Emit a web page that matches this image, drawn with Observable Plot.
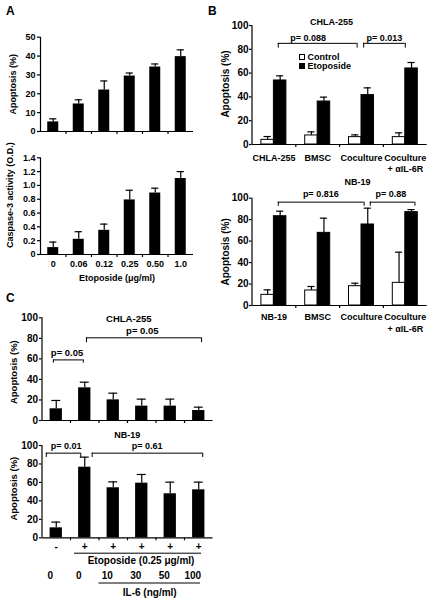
<!DOCTYPE html>
<html><head><meta charset="utf-8">
<script src="https://cdn.jsdelivr.net/npm/d3@7"></script>
<script src="https://cdn.jsdelivr.net/npm/@observablehq/plot@0.6"></script>
<style>
body{margin:0;background:#fff;}
#fig{position:relative;width:434px;height:600px;overflow:hidden;font-family:"Liberation Sans",Arial,Helvetica,sans-serif;font-weight:bold;color:#000;}
.letter{position:absolute;font-size:12px;line-height:12px;font-weight:bold;}
.leg{position:absolute;font-size:9px;line-height:9.4px;white-space:nowrap;}
.sw{display:inline-block;width:4px;height:4px;border:1px solid #000;margin-right:2.5px;vertical-align:0px;}
</style></head><body><div id="fig"></div>
<script>
// ---------- Panel A ----------
const aDoses = ["0", "0.06", "0.12", "0.25", "0.50", "1.0"];
const aApop = [5.1, 14.6, 22, 29.4, 34.2, 39.7];
const aApopErr = [6.7, 16.8, 26.8, 31, 35.8, 43.3];
const aCasp = [0.1, 0.22, 0.35, 0.79, 0.89, 1.1];
const aCaspErr = [0.18, 0.33, 0.44, 0.93, 0.96, 1.2];
const aApopTicks = [0, 10, 20, 30, 40, 50];
const aCaspTicks = [0, 0.2, 0.4, 0.6, 0.8, 1.0, 1.2, 1.4];

// ---------- Panel B ----------
const bSeries = ["Control", "Etoposide"];
const bSeriesFill = ["white", "black"];
const bTopGroups = ["CHLA-255", "BMSC", "Coculture", "Coculture\n+ αIL-6R"];
const bTopControl = [3.9, 7.6, 6.2, 6.2];
const bTopControlErr = [6.7, 10.6, 8.1, 9.8];
const bTopEtop = [53.8, 36.1, 41.5, 63.9];
const bTopEtopErr = [57.7, 39.8, 47.6, 68.9];
const bTopP = ["p= 0.088", "p= 0.013"];
const bTopPFrom = [0.6, 2.55], bTopPTo = [2.4, 3.5], bTopPText = [1.28, 3.02];
const bTopPY = [85, 85], bTopPEnd = [81, 81];

const bBotGroups = ["NB-19", "BMSC", "Coculture", "Coculture\n+ αIL-6R"];
const bBotControl = [9.9, 14, 18, 21.1];
const bBotControlErr = [14.6, 17.7, 20.8, 49.7];
const bBotEtop = [83.2, 67.7, 75.5, 87];
const bBotEtopErr = [87.9, 81.4, 90.7, 89.4];
const bBotP = ["p= 0.816", "p= 0.88"];
const bBotPFrom = [0.6, 2.7], bBotPTo = [2.56, 3.72], bBotPText = [1.57, 3.17];
const bBotPY = [96.3, 96.3], bBotPEnd = [92.5, 92.5];
const bTicks = [0, 20, 40, 60, 80, 100];

// ---------- Panel C ----------
const cTopVals = [11.4, 31.8, 20.1, 14, 14, 9.7];
const cTopErr = [19.5, 37.3, 26.6, 20.8, 20.8, 13];
const cTopP = ["p= 0.05", "p= 0.05"];
const cTopPFrom = [0.4, 1.56], cTopPTo = [1.45, 5.6], cTopPText = [0.88, 3.52];
const cTopPY = [59, 80.5], cTopPEnd = [55.8, 75.7];

const cBotVals = [10.8, 76.5, 54.2, 59.2, 47.7, 52];
const cBotErr = [17, 87.4, 60.6, 68.6, 60.3, 60.3];
const cBotP = ["p= 0.01", "p= 0.61"];
const cBotPFrom = [0.15, 1.76], cBotPTo = [1.36, 5.64], cBotPText = [0.85, 3.69];
const cBotPY = [91.7, 91.7], cBotPEnd = [87, 87];
const cTicks = [0, 20, 40, 60, 80, 100];
const cEtoposide = ["-", "+", "+", "+", "+", "+"];
const cIL6 = ["0", "0", "10", "30", "50", "100"];
const cEtopSpan = [1.14, 5.6];   // bars covered by the etoposide line
const cIL6Span = [2.0, 5.56];    // bars covered by the IL-6 line

// ---------- helpers ----------
const FONT = '"Liberation Sans", Arial, Helvetica, sans-serif';
const fig = document.getElementById("fig");
const SW = 1.2;

function place(opts, left, top, fs) {
  const svg = Plot.plot({
    ...opts,
    style: {fontFamily: FONT, fontWeight: "bold", fontSize: fs + "px", background: "transparent", overflow: "visible", color: "black"}
  });
  svg.style.position = "absolute";
  svg.style.left = left + "px";
  svg.style.top = top + "px";
  fig.appendChild(svg);
}

function frameMarks(yTicks, xTicks, fmt, tickSize, tickPadding, fs) {
  return [
    Plot.axisY({ticks: yTicks, tickSize, tickPadding, tickFormat: fmt, label: null, fontSize: fs, strokeWidth: SW}),
    Plot.axisX({ticks: xTicks, tickSize: 3, tickFormat: () => "", label: null, strokeWidth: SW}),
    Plot.ruleY([0], {strokeWidth: SW}),
    Plot.ruleX([0], {strokeWidth: SW})
  ];
}

function singleBars(vals, errs, bandPx, barPx, capPx) {
  const data = vals.map((v, i) => ({i, v, e: errs[i]}));
  const inset = (bandPx - barPx) / 2, cap = capPx / bandPx;
  return [
    Plot.ruleX(data, {x: d => d.i + 0.5, y1: "v", y2: "e", strokeWidth: SW}),
    Plot.ruleY(data, {x1: d => d.i + 0.5 - cap, x2: d => d.i + 0.5 + cap, y: "e", strokeWidth: SW}),
    Plot.rectY(data, {x1: "i", x2: d => d.i + 1, y1: 0, y2: "v", fill: "black", insetLeft: inset, insetRight: inset})
  ];
}

function groupedBars(series, bandPx, barPx, capPx) {
  const w = barPx / bandPx, cap = capPx / bandPx;
  const marks = [];
  series.forEach(([vals, errs], s) => {
    const data = vals.map((v, i) => ({i, v, e: errs[i], c: i + 0.5 - w + s * w + w / 2}));
    marks.push(
      Plot.ruleX(data, {x: "c", y1: "v", y2: "e", strokeWidth: SW}),
      Plot.ruleY(data, {x1: d => d.c - cap, x2: d => d.c + cap, y: "e", strokeWidth: SW}),
      Plot.rectY(data, {x1: d => d.c - w / 2, x2: d => d.c + w / 2, y1: 0, y2: "v",
        fill: bSeriesFill[s], stroke: "black", strokeWidth: 1})
    );
  });
  return marks;
}

function brackets(labels, from, to, tx, ys, ends, dy, fs) {
  const data = labels.map((label, k) => ({label, x1: from[k], x2: to[k], tx: tx[k], y: ys[k], y2: ends[k]}));
  return [
    Plot.ruleY(data, {x1: "x1", x2: "x2", y: "y", strokeWidth: 1}),
    Plot.ruleX(data, {x: "x1", y1: "y", y2: "y2", strokeWidth: 1}),
    Plot.ruleX(data, {x: "x2", y1: "y", y2: "y2", strokeWidth: 1}),
    Plot.text(data, {x: "tx", y: "y", text: "label", dy, fontSize: fs, lineAnchor: "middle", textAnchor: "middle"})
  ];
}

function yLabel(text, dx, dy, fs) {
  return Plot.text([text], {frameAnchor: "left", rotate: -90, dx, dy, fontSize: fs, textAnchor: "middle", lineAnchor: "middle"});
}

function bottomText(data, o) {
  return Plot.text(data, {frameAnchor: "bottom", lineAnchor: "middle", textAnchor: "middle", ...o});
}
function topText(t, dx, dy, fs) {
  return Plot.text([t], {frameAnchor: "top", lineAnchor: "middle", textAnchor: "middle", dx, dy, fontSize: fs});
}

// ---------- A top ----------
place({
  width: 217, height: 150, marginLeft: 40, marginRight: 24, marginTop: 36.7, marginBottom: 19,
  x: {type: "linear", domain: [0, aDoses.length]},
  y: {domain: [0, 50]},
  marks: [
    ...singleBars(aApop, aApopErr, 25.5, 11, 3.6),
    ...frameMarks(aApopTicks, d3.range(1, aDoses.length), d => d, 3, 2, 9),
    yLabel("Apoptosis (%)", -27, 0, 9)
  ]
}, 0, 0, 9);

// ---------- A bottom ----------
place({
  width: 217, height: 135, marginLeft: 40, marginRight: 24, marginTop: 7.3, marginBottom: 31,
  x: {type: "linear", domain: [0, aDoses.length]},
  y: {domain: [0, 1.4]},
  marks: [
    ...singleBars(aCasp, aCaspErr, 25.5, 11, 3.6),
    ...frameMarks(aCaspTicks, d3.range(1, aDoses.length), d => d === 0 ? "0" : d.toFixed(1), 3, 2, 9),
    bottomText(aDoses, {x: (d, i) => i + 0.5, text: d => d, dy: 9.5, fontSize: 9}),
    bottomText(["Etoposide (μg/ml)"], {dy: 23.7, fontSize: 9}),
    yLabel("Caspase-3 activity (O.D.)", -30, -11, 9)
  ]
}, 0, 150, 9);

// ---------- B top ----------
place({
  width: 217, height: 175, marginLeft: 34.5, marginRight: 7.3, marginTop: 25, marginBottom: 31,
  x: {type: "linear", domain: [0, bTopGroups.length]},
  y: {domain: [0, 100]},
  marks: [
    ...groupedBars([[bTopControl, bTopControlErr], [bTopEtop, bTopEtopErr]], 43.8, 12.5, 3.6),
    ...frameMarks(bTicks, d3.range(1, bTopGroups.length), d => d, 2.5, 1, 10),
    Plot.text(bTopGroups, {x: (d, i) => i + 0.5, text: d => d, frameAnchor: "bottom", lineAnchor: "top", textAnchor: "middle", dy: 8, lineHeight: 1.25, fontSize: 9}),
    ...brackets(bTopP, bTopPFrom, bTopPTo, bTopPText, bTopPY, bTopPEnd, -5.6, 9),
    topText("CHLA-255", -8, -3.3, 9),
    yLabel("Apoptosis (%)", -26.5, -1, 10)
  ]
}, 217, 0, 10);

// ---------- B bottom ----------
place({
  width: 217, height: 160, marginLeft: 34.5, marginRight: 7.3, marginTop: 22.7, marginBottom: 30,
  x: {type: "linear", domain: [0, bBotGroups.length]},
  y: {domain: [0, 100]},
  marks: [
    ...groupedBars([[bBotControl, bBotControlErr], [bBotEtop, bBotEtopErr]], 43.8, 12.5, 3.6),
    ...frameMarks(bTicks, d3.range(1, bBotGroups.length), d => d, 2.5, 1, 10),
    Plot.text(bBotGroups, {x: (d, i) => i + 0.5, text: d => d, frameAnchor: "bottom", lineAnchor: "top", textAnchor: "middle", dy: 6, lineHeight: 1.3, fontSize: 9}),
    ...brackets(bBotP, bBotPFrom, bBotPTo, bBotPText, bBotPY, bBotPEnd, -8.4, 9),
    topText("NB-19", 18, -16, 9),
    yLabel("Apoptosis (%)", -26.5, 0, 10)
  ]
}, 217, 175, 10);

// B legend
const leg = document.createElement("div");
leg.className = "leg";
leg.style.left = "299px";
leg.style.top = "52.5px";
leg.innerHTML = bSeries.map((s, k) => `<div><span class="sw" style="background:${bSeriesFill[k]}"></span>${s}</div>`).join("");
fig.appendChild(leg);

// ---------- C top ----------
place({
  width: 217, height: 120, marginLeft: 41.5, marginRight: 4.5, marginTop: 12.3, marginBottom: 5,
  x: {type: "linear", domain: [0, cTopVals.length]},
  y: {domain: [0, 100]},
  marks: [
    ...singleBars(cTopVals, cTopErr, 28.5, 12.3, 4.5),
    ...frameMarks(cTicks, d3.range(1, cTopVals.length), d => d, 2.5, 1.5, 10),
    ...brackets(cTopP, cTopPFrom, cTopPTo, cTopPText, cTopPY, cTopPEnd, -6.6, 9.5),
    topText("CHLA-255", 1.3, 1, 9.5),
    yLabel("Apoptosis (%)", -28.5, 3, 9.5)
  ]
}, 0, 305, 10);

// ---------- C bottom ----------
place({
  width: 217, height: 175, marginLeft: 41.5, marginRight: 4.5, marginTop: 20, marginBottom: 62.7,
  x: {type: "linear", domain: [0, cBotVals.length]},
  y: {domain: [0, 100]},
  marks: [
    ...singleBars(cBotVals, cBotErr, 28.5, 12.3, 4.5),
    ...frameMarks(cTicks, d3.range(1, cBotVals.length), d => d, 2.5, 1.5, 10),
    ...brackets(cBotP, cBotPFrom, cBotPTo, cBotPText, cBotPY, cBotPEnd, -6.8, 9),
    topText("NB-19", -0.3, -10, 9),
    bottomText(cEtoposide, {x: (d, i) => i + 0.5, text: d => d, dy: 8.7, fontSize: 10}),
    Plot.ruleY([cEtopSpan], {x1: d => d[0], x2: d => d[1], y: 0, dy: 15.4, strokeWidth: 1}),
    bottomText([cEtopSpan], {x: d => (d[0] + d[1]) / 2, text: () => "Etoposide (0.25 μg/ml)", dx: 3, dy: 22.7, fontSize: 10}),
    bottomText(cIL6, {x: (d, i) => i + 0.5, text: d => d, dx: -6, dy: 37.7, fontSize: 10}),
    Plot.ruleY([cIL6Span], {x1: d => d[0], x2: d => d[1], y: 0, dy: 45.2, strokeWidth: 1}),
    bottomText([cIL6Span], {x: d => (d[0] + d[1]) / 2, text: () => "IL-6 (ng/ml)", dy: 54.7, fontSize: 10}),
    yLabel("Apoptosis (%)", -28.5, -3, 9.5)
  ]
}, 0, 425, 10);

// panel letters
[["A", 6, 5], ["B", 208, 5], ["C", 6, 291.5]].forEach(([t, x, y]) => {
  const d = document.createElement("div");
  d.className = "letter";
  d.textContent = t;
  d.style.left = x + "px";
  d.style.top = y + "px";
  fig.appendChild(d);
});
</script></body></html>
